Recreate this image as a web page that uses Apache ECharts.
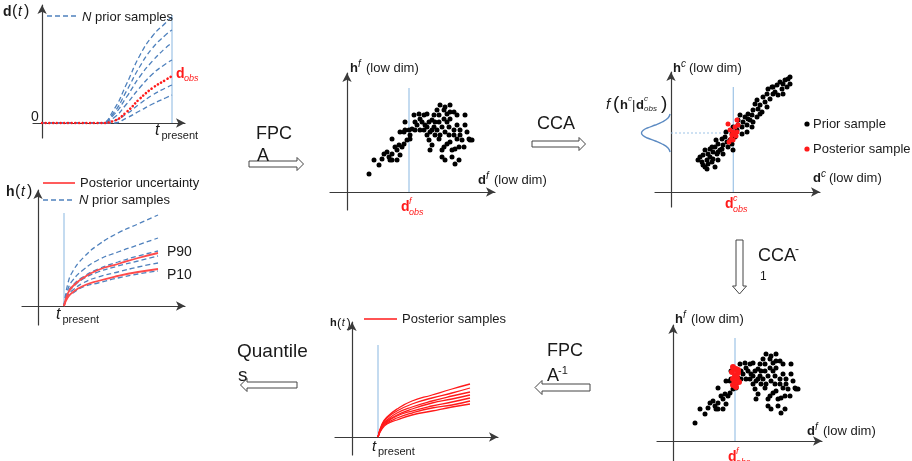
<!DOCTYPE html>
<html>
<head>
<meta charset="utf-8">
<script src="https://cdn.jsdelivr.net/npm/echarts@6/dist/echarts.min.js"></script>
<style>html,body{margin:0;padding:0;background:#fff}#c{width:912px;height:461px}</style>
</head>
<body>
<div id="c"></div>
<script>
// ---------- DATA ----------
// Panel 1: d(t), prior samples and observed data
const dTimes = [0, 4.5, 5.5, 6.5, 7.5, 8.5, 9.5, 10];
const dPrior = [
  [0, 0, 1.3, 3.9, 6.7, 8.7, 10.0, 10.6],
  [0, 0, 1.0, 3.2, 5.6, 7.5, 8.8, 9.3],
  [0, 0, 0.8, 2.6, 4.6, 6.2, 7.5, 8.0],
  [0, 0, 0.5, 1.9, 3.5, 4.9, 5.9, 6.3],
  [0, 0, 0.2, 0.9, 1.9, 2.8, 3.5, 3.8],
  [0, 0, 0.0, 0.5, 1.2, 1.9, 2.5, 2.8]
];
const dObs = [0, 0, 0.2, 1.1, 2.4, 3.5, 4.3, 4.7];
const dPresent = 10;

// Panel 2: h(t) prior samples + P10/P90
const hTimes = [2.6, 3, 3.5, 4.5, 6, 8, 10, 12];
const hPrior = [
  [0, 2.3, 3.5, 4.8, 6.1, 7.3, 8.2, 9.1],
  [0, 1.7, 2.6, 3.6, 4.6, 5.4, 6.1, 6.8],
  [0, 1.4, 2.1, 2.9, 3.7, 4.4, 5.0, 5.5],
  [0, 1.3, 1.9, 2.7, 3.4, 4.0, 4.5, 5.0],
  [0, 1.1, 1.6, 2.3, 2.9, 3.4, 3.9, 4.3],
  [0, 0.9, 1.3, 1.9, 2.3, 2.8, 3.2, 3.5]
];
const hP90 = [0, 1.3, 2.0, 2.8, 3.6, 4.2, 4.8, 5.3];
const hP10 = [0, 0.9, 1.4, 2.0, 2.5, 3.0, 3.4, 3.7];
const hPresent = 2.6;

// Panel 6: posterior samples of h(t)
const postTimes = [2.6, 3, 3.5, 4.5, 6, 8, 10, 11.8];
const hPosterior = [
  [0, 1.3, 2.0, 2.8, 3.6, 4.2, 4.8, 5.3],
  [0, 1.2, 1.9, 2.6, 3.3, 3.9, 4.4, 4.9],
  [0, 1.1, 1.7, 2.4, 3.0, 3.6, 4.1, 4.5],
  [0, 1.1, 1.6, 2.2, 2.8, 3.4, 3.8, 4.2],
  [0, 1.0, 1.5, 2.1, 2.6, 3.1, 3.5, 3.9],
  [0, 0.9, 1.4, 1.9, 2.4, 2.9, 3.2, 3.6],
  [0, 0.8, 1.3, 1.7, 2.2, 2.6, 3.0, 3.3]
];

// Functional space (low dim) scatter: [d^f, h^f]
const priorF = [
  [2.2,1.8],[2.7,3.2],[3.2,2.7],[3.5,3.3],[3.7,3.8],[4.0,4.0],[4.2,3.5],[4.5,3.8],[4.5,3.2],[4.5,5.3],
  [4.8,4.5],[5.0,4.2],[5.2,4.7],[5.3,3.7],[5.3,6.0],[5.5,4.5],[5.7,6.0],[5.8,7.0],[5.8,6.2],[6.0,5.2],
  [6.2,6.2],[6.3,5.3],[6.5,6.3],[6.7,7.7],[6.8,7.0],[6.8,6.2],[7.0,6.7],[7.2,7.8],[7.3,6.2],[7.5,7.0],
  [7.7,7.7],[7.7,6.2],[7.8,6.7],[8.0,7.8],[8.0,5.7],[8.2,7.0],[8.2,5.2],[8.3,6.0],[8.3,4.2],[8.5,7.2],
  [8.5,4.7],[8.7,7.7],[8.7,6.5],[8.8,5.7],[8.8,7.0],[9.0,8.2],[9.0,6.2],[9.2,7.7],[9.2,7.0],[9.3,8.7],
  [9.3,5.7],[9.5,6.5],[9.5,3.5],[9.7,8.2],[9.7,7.3],[9.7,4.5],[9.8,6.0],[9.8,3.2],[9.8,8.5],[10.0,7.0],
  [10.0,7.8],[10.2,5.7],[10.2,6.5],[10.3,8.7],[10.3,7.3],[10.3,5.0],[10.5,3.5],[10.5,4.2],[10.7,6.2],[10.7,8.0],
  [10.7,5.7],[10.8,2.8],[10.8,4.3],[11.0,7.7],[11.0,6.7],[11.0,5.3],[11.2,4.5],[11.2,3.2],[11.3,6.2],[11.3,5.7],
  [11.5,5.2],[11.7,4.5],[11.8,7.7],[11.8,6.7],[12.0,6.0],[12.2,5.3],[12.3,5.2],[12.5,5.2],[9.5,4.2],[10.0,4.8],
  [10.3,8.0],[9.2,5.3],[8.5,6.2],[8.0,6.5],[7.3,7.3],[6.3,5.7],[5.7,4.8],[5.0,3.2],[4.3,3.2]
];
const posteriorF = [[6.0,7.4],[6.3,7.2],[5.9,6.9],[6.5,6.8],[6.2,6.5],[6.0,6.2],[6.4,6.3],[6.6,5.9],[6.2,5.8],[6.3,5.4],[6.0,5.6],[6.5,7.1]];
const dObsF = 6.2;

// Canonical space scatter: [d^c, h^c]
const priorC = [
  [2.7,3.2],[2.9,3.5],[3.1,3.0],[3.2,2.7],[3.2,3.7],[3.4,4.2],[3.6,3.2],[3.6,2.3],[3.7,3.8],[3.7,2.8],
  [3.9,3.5],[3.9,4.3],[4.1,3.0],[4.2,4.0],[4.2,3.3],[4.4,4.5],[4.4,2.5],[4.5,5.2],[4.6,3.8],[4.7,4.8],
  [4.7,3.2],[4.9,4.2],[5.1,4.3],[5.1,5.3],[5.2,4.7],[5.4,5.5],[5.5,6.0],[5.6,5.0],[5.7,4.5],[5.9,5.2],
  [6.1,5.8],[6.2,6.5],[6.4,5.5],[6.6,6.2],[6.7,7.2],[6.7,6.7],[6.9,7.7],[7.1,5.8],[7.1,6.5],[7.2,7.0],
  [7.4,7.5],[7.6,6.7],[7.6,6.0],[7.7,7.8],[7.9,7.2],[8.1,7.7],[8.2,7.0],[8.2,8.2],[8.4,8.8],[8.6,7.5],
  [8.6,9.2],[8.7,8.3],[8.9,8.7],[9.1,8.0],[9.2,9.5],[9.4,9.0],[9.6,8.5],[9.6,9.8],[9.7,10.3],[9.9,9.3],
  [10.1,10.5],[10.2,9.8],[10.4,10.0],[10.6,10.7],[10.7,9.7],[10.9,11.0],[11.1,10.3],[11.2,10.8],[11.4,11.2],[11.6,10.5],
  [11.7,11.3],[11.9,10.8],[11.9,11.5],[11.2,9.8],[10.2,10.5],[8.9,7.8],[8.1,6.5],[7.7,7.3],[6.2,4.2],[6.1,4.8],
  [5.2,3.8],[4.7,4.0],[4.1,4.5],[3.4,2.5]
];
const posteriorC = [[5.7,6.8],[5.9,6.2],[6.1,5.7],[6.2,5.2],[6.4,6.5],[6.6,7.2],[6.6,6.0],[6.5,5.6],[6.0,5.3],[6.7,6.7],[6.2,6.0],[5.8,5.0]];
const dObsC = 6.23;
const hPostMean = 5.9;

// Conditional density f(h^c | d^c_obs)
const densH = [-1.9, -1.5, -1.1, -0.8, -0.5, -0.25, 0, 0.25, 0.5, 0.8, 1.1, 1.5, 1.9];
const densF = [0.03, 0.1, 0.3, 0.53, 0.8, 0.95, 1, 0.95, 0.8, 0.53, 0.3, 0.1, 0.03];

// ---------- STYLE ----------
const FONT = 'Liberation Sans, Arial, sans-serif';
const AX = '#3a3a3a';
const BLUE = '#4f81bd';
const LBLUE = '#9dc3e6';
const RED = '#ff1a1a';

const grids = [
  {left: 33, top: 5, width: 152, height: 133},     // 0 d(t)
  {left: 22, top: 190, width: 163, height: 135},   // 1 h(t)
  {left: 330, top: 73, width: 165, height: 137},   // 2 h^f vs d^f
  {left: 655, top: 72, width: 165, height: 135},   // 3 h^c vs d^c
  {left: 657, top: 325, width: 165, height: 136},  // 4 h^f vs d^f posterior
  {left: 335, top: 322, width: 163, height: 133},  // 5 posterior h(t)
  {left: 640, top: 112, width: 31, height: 42}     // 6 density
];
const xr = [[-0.7, 11], [-1.6, 14.7], [-1.7, 14.8], [-1.6, 14.9], [-1.6, 14.9], [-1.7, 14.6], [0, 1.05]];
const yr = [[-1.5, 11.8], [-1.9, 11.6], [-1.8, 11.9], [-1.5, 12], [-2.0, 11.6], [-1.8, 11.5], [-2.1, 2.1]];

function axis(i, r, isX) {
  const show = i < 6;
  return {
    type: 'value', gridIndex: i, min: r[0], max: r[1], show: show,
    inverse: (i === 6 && isX),
    axisLine: {show: show, onZero: true, symbol: ['none', 'arrow'], symbolSize: [7, 9],
      lineStyle: {color: AX, width: 1.2}},
    axisTick: {show: false}, axisLabel: {show: false}, splitLine: {show: false}
  };
}
const xAxes = xr.map((r, i) => axis(i, r, true));
const yAxes = yr.map((r, i) => axis(i, r, false));

function zip(xs, ys) { return xs.map((x, k) => [x, ys[k]]); }
function line(idx, data, style, extra) {
  return Object.assign({type: 'line', xAxisIndex: idx, yAxisIndex: idx, data: data,
    showSymbol: false, symbol: 'none', smooth: 0.5,
    lineStyle: style, silent: true, z: 3}, extra || {});
}
function vline(idx, x, top) {
  return line(idx, [[x, 0], [x, top]], {color: LBLUE, width: 1.2}, {smooth: false, z: 2});
}
function scatter(idx, data, color, size, z) {
  return {type: 'scatter', xAxisIndex: idx, yAxisIndex: idx, data: data, symbolSize: size,
    itemStyle: {color: color, opacity: 1}, silent: true, z: z};
}

const series = [];
// panel 1
series.push(vline(0, dPresent, 10.8));
dPrior.forEach(c => series.push(line(0, zip(dTimes, c), {color: BLUE, width: 1.3, type: [5, 3]})));
series.push(line(0, zip(dTimes, dObs), {color: RED, width: 2.6, type: [0.1, 3.6], cap: 'round'}, {z: 4}));
// panel 2
series.push(vline(1, hPresent, 9.3));
hPrior.forEach(c => series.push(line(1, zip(hTimes, c), {color: BLUE, width: 1.3, type: [5, 3]})));
series.push(line(1, zip(hTimes, hP90), {color: '#ff4a4a', width: 1.8}, {z: 4}));
series.push(line(1, zip(hTimes, hP10), {color: '#ff4a4a', width: 1.8}, {z: 4}));
// panel 3
series.push(vline(2, dObsF, 10.4));
series.push(scatter(2, priorF, '#000', 5, 5));
// panel 4
series.push(vline(3, dObsC, 10.5));
series.push(line(3, [[0, hPostMean], [dObsC, hPostMean]], {color: LBLUE, width: 1, type: [2, 2]}, {smooth: false}));
series.push(scatter(3, priorC, '#000', 5, 5));
series.push(scatter(3, posteriorC, RED, 5, 6));
// panel 5
series.push(vline(4, dObsF, 10.3));
series.push(scatter(4, priorF, '#000', 5, 5));
series.push(scatter(4, posteriorF, RED, 6, 6));
// panel 6
series.push(vline(5, hPresent, 9.2));
hPosterior.forEach(c => series.push(line(5, zip(postTimes, c), {color: RED, width: 1.3})));
// density
series.push(line(6, zip(densF, densH), {color: '#5b8ac2', width: 1.4}, {smooth: 0.4}));

// ---------- ANNOTATIONS ----------
function T(x, y, text, size, o) {
  o = o || {};
  return {type: 'text', x: x, y: y, z: 100, silent: true,
    style: {text: text, fill: o.color || '#1a1a1a',
      font: (o.italic ? 'italic ' : '') + (o.bold ? 'bold ' : '') + size + 'px ' + FONT,
      textAlign: 'left', align: 'left', textVerticalAlign: 'middle', verticalAlign: 'middle'}};
}
function L(x1, y1, x2, y2, color, dash, w) {
  return {type: 'line', z: 90, silent: true, shape: {x1: x1, y1: y1, x2: x2, y2: y2},
    style: {stroke: color, lineWidth: w || 1.5, lineDash: dash || null}};
}
function P(points) {
  return {type: 'polygon', z: 80, silent: true, shape: {points: points},
    style: {fill: '#fff', stroke: '#444', lineWidth: 1}};
}
function C(cx, cy, color) {
  return {type: 'circle', z: 90, silent: true, shape: {cx: cx, cy: cy, r: 2.6}, style: {fill: color}};
}
function lowDim(x, y, letter, sup) {
  return [T(x, y, letter, 13, {bold: true}), T(x + 8, y - 4, sup, 10, {italic: true}),
          T(x + 16, y, '(low dim)', 13)];
}
function obsLabel(x, y, sup) {
  return [T(x, y, 'd', 14, {bold: true, color: RED}), T(x + 8, y - 6, sup, 9, {italic: true, color: RED}),
          T(x + 8, y + 5, 'obs', 9, {italic: true, color: RED})];
}
function tPresent(x, y, big, small) {
  return [T(x, y, 't', big, {italic: true}), T(x + big * 0.4, y + 5, 'present', small)];
}
function ht(x, y, s, letter) {
  const k = s / 14;
  return [T(x, y, letter, s, {bold: true}), T(x + 9 * k, y, '(', s + 2), T(x + 15 * k, y, 't', s, {italic: true}),
          T(x + 21 * k, y, ')', s + 2)];
}

const graphic = [].concat(
  // panel 1
  ht(3, 12, 14, 'd'),
  [L(47, 16, 78, 16, BLUE, [5, 3]), T(82, 17, 'N', 13, {italic: true}), T(95, 17, 'prior samples', 13),
   T(31, 117, '0', 14)],
  tPresent(155, 131, 16, 11),
  [T(176, 74, 'd', 14, {bold: true, color: RED}), T(184, 78, 'obs', 9, {italic: true, color: RED})],
  // panel 2
  ht(6, 192, 14, 'h'),
  [L(43, 183, 75, 183, '#ff4a4a', null, 1.8), T(80, 183, 'Posterior uncertainty', 13),
   L(43, 200, 75, 200, BLUE, [5, 3]), T(79, 200, 'N', 13, {italic: true}), T(92, 200, 'prior samples', 13),
   T(167, 252, 'P90', 14), T(167, 275, 'P10', 14)],
  tPresent(56, 315, 16, 11),
  // panel 3
  lowDim(350, 68, 'h', 'f'), lowDim(478, 180, 'd', 'f'), obsLabel(401, 207, 'f'),
  // panel 4
  lowDim(673, 68, 'h', 'c'), lowDim(813, 178, 'd', 'c'), obsLabel(725, 204, 'c'),
  [T(606, 105, 'f', 15, {italic: true}), T(613, 104, '(', 19), T(620, 105, 'h', 13, {bold: true}),
   T(628, 99, 'c', 8, {italic: true}), T(632, 105, '|', 13), T(636, 105, 'd', 13, {bold: true}),
   T(644, 99, 'c', 8, {italic: true}), T(644, 109, 'obs', 8, {italic: true}), T(661, 104, ')', 19)],
  [C(807, 124, '#000'), T(813, 124, 'Prior sample', 13), C(807, 149, RED), T(813, 149, 'Posterior sample', 13)],
  // panel 5
  lowDim(675, 319, 'h', 'f'), lowDim(807, 431, 'd', 'f'), obsLabel(728, 457, 'f'),
  // panel 6
  ht(330, 323, 11, 'h'),
  [L(364, 319, 397, 319, RED, null, 1.5), T(402, 319, 'Posterior samples', 13)],
  tPresent(372, 447, 15, 11),
  // arrows
  [P([[249,161],[297,161],[297,157.5],[303.5,164],[297,170.5],[297,167],[249,167]]),
   T(256, 134, 'FPC', 18), T(257, 156, 'A', 18),
   P([[532,141],[579,141],[579,137.5],[585.5,144],[579,150.5],[579,147],[532,147]]),
   T(537, 124, 'CCA', 18),
   P([[736,240],[743,240],[743,286],[746.5,286],[739.5,294],[732.5,286],[736,286]]),
   T(758, 256, 'CCA', 18), T(795, 250, '-', 12), T(760, 277, '1', 12),
   P([[590,384],[542,384],[542,380.5],[535,387.5],[542,394.5],[542,391],[590,391]]),
   T(547, 351, 'FPC', 18), T(547, 376, 'A', 18), T(558, 371, '-1', 11),
   P([[297,382],[247,382],[247,378.5],[240.5,385],[247,391.5],[247,388],[297,388]]),
   T(237, 352, 'Quantile', 19), T(238, 376, 's', 19)]
);

const chart = echarts.init(document.getElementById('c'), null, {renderer: 'canvas'});
chart.setOption({
  backgroundColor: '#fff',
  animation: false,
  textStyle: {fontFamily: FONT},
  grid: grids,
  xAxis: xAxes,
  yAxis: yAxes,
  series: series,
  graphic: graphic
});
</script>
</body>
</html>
